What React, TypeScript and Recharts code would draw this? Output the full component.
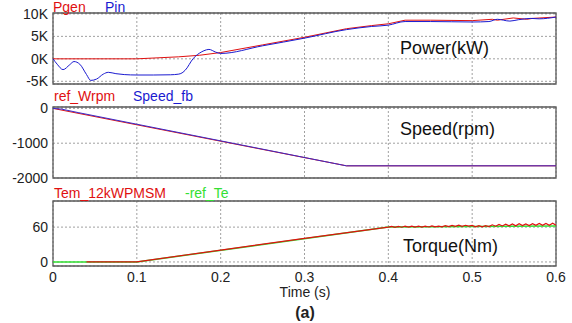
import React from "react";
import {
  LineChart,
  Line,
  XAxis,
  YAxis,
  CartesianGrid,
  ReferenceArea,
} from "recharts";

// time axis
const TIME_TICKS = [0, 0.1, 0.2, 0.3, 0.4, 0.5, 0.6];

// Power panel (W)
const PGEN_T = [0, 0.1, 0.15, 0.175, 0.2, 0.25, 0.3, 0.35, 0.38, 0.4, 0.42, 0.45, 0.5, 0.524, 0.53, 0.549, 0.565, 0.572, 0.6];
const PGEN_V = [0, 0, 450, 800, 1400, 3100, 4800, 6700, 7400, 7800, 8600, 8600, 8500, 8800, 8600, 9100, 8800, 9000, 9300];
const PIN_T = [0, 0.005, 0.012, 0.02, 0.025, 0.032, 0.04, 0.045, 0.052, 0.06, 0.066, 0.075, 0.085, 0.1, 0.12, 0.14, 0.15, 0.155, 0.16, 0.165, 0.17, 0.175, 0.18, 0.186, 0.194, 0.2, 0.25, 0.3, 0.35, 0.38, 0.4, 0.42, 0.45, 0.5, 0.52, 0.53, 0.545, 0.555, 0.57, 0.58, 0.6];
const PIN_V = [0, -1200, -2400, -1300, -600, -1200, -3500, -4800, -4500, -3400, -3000, -3300, -3500, -3600, -3600, -3550, -3400, -3000, -2000, -500, 600, 1300, 1800, 2100, 1500, 1200, 2900, 4600, 6500, 7200, 7500, 8300, 8300, 8200, 8300, 8800, 8400, 8700, 9000, 8900, 9300];
const POWER_TICKS = [-5000, 0, 5000, 10000];

// Speed panel (rpm)
const WREF_T = [0, 0.35, 0.6];
const WREF_V = [0, -1650, -1650];
const WFB_T = [0, 0.01, 0.03, 0.35, 0.6];
const WFB_V = [0, -20, -120, -1650, -1650];
const SPEED_TICKS = [-2000, -1000, 0];

// Torque panel (Nm)
const TEREF_T = [0, 0.1, 0.4, 0.5, 0.6];
const TEREF_V = [0, 0, 60, 61, 62];
const TEM_T = [
  0.04, 0.1, 0.2, 0.3, 0.4,
  0.404, 0.408, 0.412, 0.416, 0.42, 0.424, 0.428, 0.432, 0.436, 0.44,
  0.444, 0.448, 0.452, 0.456, 0.46, 0.464, 0.468, 0.472, 0.476, 0.48,
  0.484, 0.488, 0.492, 0.496, 0.5, 0.504, 0.508, 0.512, 0.516, 0.52,
  0.524, 0.528, 0.532, 0.536, 0.54, 0.544, 0.548, 0.552, 0.556, 0.56,
  0.564, 0.568, 0.572, 0.576, 0.58, 0.584, 0.588, 0.592, 0.596, 0.6,
];
const TEM_V = [
  0, 0, 20.5, 40.5, 60,
  61.2, 59.6, 61.4, 59.8, 61.5, 60, 61.8, 60.1, 61.6, 59.9,
  61.7, 60.2, 62, 60.3, 61.8, 60.4, 62.6, 60.8, 63, 61.2,
  63.4, 61.4, 63.2, 61.6, 63, 60.6, 62.4, 60.4, 62.6, 61,
  64, 61.6, 64.6, 62, 65, 62.2, 65.4, 62.4, 65.8, 62.6,
  65.6, 62.8, 66, 63, 66.2, 63, 66.4, 63.2, 66.6, 63.4,
];
const TORQUE_TICKS = [0, 60];

const zip = (t: number[], v: number[]) => t.map((x, i) => ({ t: x, v: v[i] }));

const FONT = "'Liberation Sans', Arial, sans-serif";
const RED = "#e01010";
const BLUE = "#1a1ad0";
const GREEN = "#33e033";
const GRID = "#a0a0a0";
const BORDER = "#5a5a5a";
const W = 572;

const tickStyle = { fontSize: 14, fill: "#222", fontFamily: FONT };

function Label({ x, y, color, text, size = 14 }: { x: number; y: number; color: string; text: string; size?: number }) {
  return (
    <div
      style={{
        position: "absolute",
        left: x,
        top: y,
        color,
        fontSize: size,
        fontFamily: FONT,
        lineHeight: 1,
        whiteSpace: "nowrap",
      }}
    >
      {text}
    </div>
  );
}

function Panel({
  top,
  height,
  bottom,
  domain,
  ticks,
  fmt,
  children,
  showX,
}: {
  top: number;
  height: number;
  bottom: number;
  domain: [number, number];
  ticks: number[];
  fmt?: (v: number) => string;
  children: React.ReactNode;
  showX?: boolean;
}) {
  return (
    <div style={{ position: "absolute", left: 0, top }}>
      <LineChart width={W} height={height} margin={{ top: 13, right: 16, left: 0, bottom }}>
        <CartesianGrid stroke={GRID} strokeDasharray="2 2" />
        <XAxis
          dataKey="t"
          type="number"
          domain={[0, 0.6]}
          ticks={TIME_TICKS}
          allowDataOverflow
          hide={!showX}
          axisLine={false}
          tickLine={false}
          tickSize={0}
          tickMargin={6}
          tick={tickStyle}
          height={showX ? 30 : 0}
        />
        <YAxis
          type="number"
          domain={domain}
          ticks={ticks}
          allowDataOverflow
          interval={0}
          width={53}
          axisLine={false}
          tickLine={false}
          tickSize={0}
          tickMargin={5}
          tick={tickStyle}
          tickFormatter={fmt}
        />
        {children}
        <ReferenceArea
          x1={0}
          x2={0.6}
          y1={domain[0]}
          y2={domain[1]}
          fill="none"
          stroke={BORDER}
          strokeWidth={1.3}
        />
      </LineChart>
    </div>
  );
}

export default function App() {
  return (
    <div style={{ position: "absolute", left: 0, top: 0, width: W, height: 323, background: "#fff", overflow: "hidden" }}>
      <Panel top={0} height={96} bottom={12} domain={[-5600, 10200]} ticks={POWER_TICKS} fmt={(v) => `${v / 1000}K`}>
        <Line data={zip(PGEN_T, PGEN_V)} dataKey="v" stroke={RED} strokeWidth={1} dot={false} isAnimationActive={false} />
        <Line data={zip(PIN_T, PIN_V)} dataKey="v" stroke={BLUE} strokeWidth={1} dot={false} type="monotone" isAnimationActive={false} />
      </Panel>
      <Panel top={94} height={96} bottom={12} domain={[-2000, 40]} ticks={SPEED_TICKS}>
        <Line data={zip(WREF_T, WREF_V)} dataKey="v" stroke={RED} strokeWidth={1} dot={false} isAnimationActive={false} />
        <Line data={zip(WFB_T, WFB_V)} dataKey="v" stroke="#3a2ac8" strokeWidth={1} dot={false} isAnimationActive={false} />
      </Panel>
      <Panel top={188} height={135} bottom={27} domain={[-7, 105]} ticks={TORQUE_TICKS} showX>
        <Line data={zip(TEREF_T, TEREF_V)} dataKey="v" stroke={GREEN} strokeWidth={1.5} dot={false} isAnimationActive={false} />
        <Line data={zip(TEM_T, TEM_V)} dataKey="v" stroke={RED} strokeWidth={1.2} dot={false} isAnimationActive={false} />
      </Panel>

      <Label x={53} y={0} color={RED} text="Pgen" />
      <Label x={105} y={0} color={BLUE} text="Pin" />
      <Label x={54} y={89} color={RED} text="ref_Wrpm" />
      <Label x={133} y={89} color={BLUE} text="Speed_fb" />
      <Label x={54} y={186} color={RED} text="Tem_12kWPMSM" />
      <Label x={185} y={186} color={GREEN} text="-ref_Te" />

      <Label x={400} y={39} color="#111" text="Power(kW)" size={18} />
      <Label x={400} y={120} color="#111" text="Speed(rpm)" size={18} />
      <Label x={403} y={237} color="#111" text="Torque(Nm)" size={18} />

      <div style={{ position: "absolute", left: 0, width: 610, top: 284, textAlign: "center", fontSize: 14, fontFamily: FONT, color: "#222" }}>
        Time (s)
      </div>
      <div style={{ position: "absolute", left: 0, width: 610, top: 304, textAlign: "center", fontSize: 16, fontWeight: "bold", fontFamily: FONT, color: "#222" }}>
        (a)
      </div>
    </div>
  );
}
